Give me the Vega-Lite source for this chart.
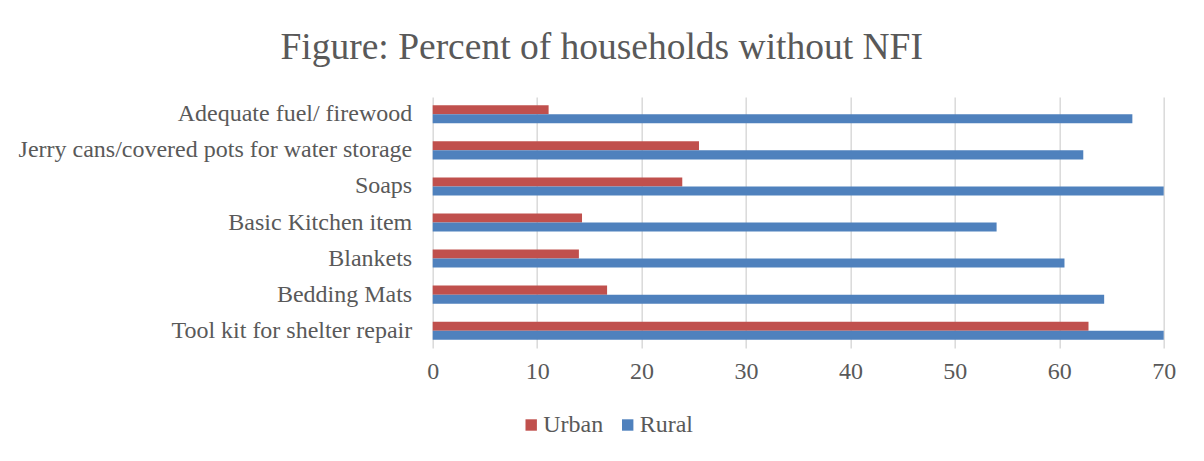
{
  "$schema": "https://vega.github.io/schema/vega-lite/v6.json",
  "width": 731,
  "height": 251,
  "autosize": {"type": "none"},
  "padding": {"left": 432.7, "top": 97, "right": 40, "bottom": 113},
  "background": "white",
  "title": {
    "text": "Figure: Percent of households without NFI",
    "font": "Liberation Serif",
    "fontSize": 37.5,
    "fontWeight": "normal",
    "color": "#595959",
    "anchor": "middle",
    "dx": -196.5,
    "offset": 31
  },
  "data": {
    "values": [
      {"item": "Adequate fuel/ firewood", "area": "Urban", "pct": 11.1},
      {"item": "Adequate fuel/ firewood", "area": "Rural", "pct": 67.0},
      {"item": "Jerry cans/covered pots for water storage", "area": "Urban", "pct": 25.5},
      {"item": "Jerry cans/covered pots for water storage", "area": "Rural", "pct": 62.3},
      {"item": "Soaps", "area": "Urban", "pct": 23.9},
      {"item": "Soaps", "area": "Rural", "pct": 70.0},
      {"item": "Basic Kitchen item", "area": "Urban", "pct": 14.3},
      {"item": "Basic Kitchen item", "area": "Rural", "pct": 54.0},
      {"item": "Blankets", "area": "Urban", "pct": 14.0},
      {"item": "Blankets", "area": "Rural", "pct": 60.5},
      {"item": "Bedding Mats", "area": "Urban", "pct": 16.7},
      {"item": "Bedding Mats", "area": "Rural", "pct": 64.3},
      {"item": "Tool kit for shelter repair", "area": "Urban", "pct": 62.8},
      {"item": "Tool kit for shelter repair", "area": "Rural", "pct": 70.0}
    ]
  },
  "mark": {"type": "bar"},
  "encoding": {
    "y": {
      "field": "item",
      "type": "nominal",
      "sort": null,
      "scale": {"paddingInner": 0.5, "paddingOuter": 0.23},
      "axis": {
        "title": null,
        "domain": false,
        "ticks": false,
        "labelFont": "Liberation Serif",
        "labelFontSize": 24,
        "labelColor": "#595959",
        "labelPadding": 21,
        "labelLimit": 500
      }
    },
    "yOffset": {"field": "area", "type": "nominal", "sort": ["Urban", "Rural"]},
    "x": {
      "field": "pct",
      "type": "quantitative",
      "scale": {"domain": [0, 70], "nice": false},
      "axis": {
        "title": null,
        "values": [0, 10, 20, 30, 40, 50, 60, 70],
        "domain": false,
        "ticks": false,
        "grid": true,
        "gridColor": "#D9D9D9",
        "gridWidth": 1.5,
        "labelFlush": false,
        "labelFont": "Liberation Serif",
        "labelFontSize": 24,
        "labelColor": "#595959",
        "labelPadding": 12
      }
    },
    "color": {
      "field": "area",
      "type": "nominal",
      "sort": ["Urban", "Rural"],
      "scale": {"domain": ["Urban", "Rural"], "range": ["#C0504D", "#4F81BD"]},
      "legend": {
        "title": null,
        "orient": "none",
        "direction": "horizontal",
        "legendX": 86.5,
        "legendY": 316,
        "symbolType": "square",
        "symbolSize": 130,
        "symbolStrokeWidth": 0,
        "labelFont": "Liberation Serif",
        "labelFontSize": 24,
        "labelColor": "#595959",
        "labelOffset": 0,
        "columnPadding": 12.5
      }
    }
  },
  "config": {
    "view": {"stroke": null}
  }
}
